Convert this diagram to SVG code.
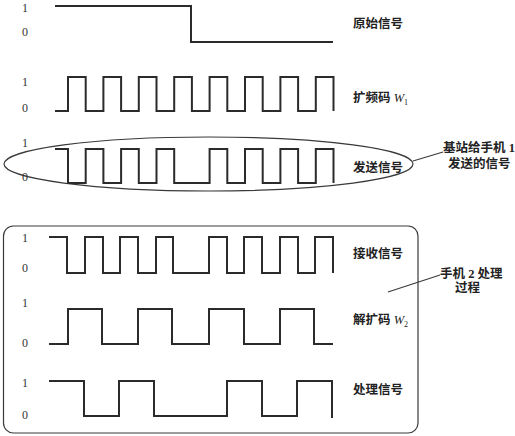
<svg xmlns="http://www.w3.org/2000/svg" width="515" height="436" viewBox="0 0 515 436">
<style>
.sig{fill:none;stroke:#2b2b2b;stroke-width:2;stroke-linejoin:miter}
.ln{fill:none;stroke:#3a3a3a;stroke-width:1.2}
.ax{font-family:"Liberation Serif",serif;font-size:12px;fill:#333}
.lb{font-family:"Liberation Serif","Noto Sans CJK SC",serif;font-size:12.5px;fill:#222;font-weight:bold}
.it{font-style:italic;font-weight:normal}
.sub{font-size:8px;font-weight:normal}
</style>
<rect width="515" height="436" fill="#fff"/>
<g id="box">
<rect x="3.5" y="226" width="414.5" height="207" rx="10" class="ln"/>
</g>
<g id="ellipse">
<ellipse cx="208.5" cy="164" rx="204.5" ry="27" class="ln"/>
</g>
<g id="connectors">
<line x1="413" y1="161" x2="443" y2="152" class="ln"/>
<line x1="388" y1="292" x2="440" y2="275" class="ln"/>
</g>
<g id="sig1">
<text class="ax" x="22" y="12">1</text>
<text class="ax" x="22" y="36">0</text>
<path class="sig" d="M55,6 H191 V42 H333"/>
<text class="lb" x="353" y="28">原始信号</text>
</g>
<g id="sig2">
<text class="ax" x="22" y="86">1</text>
<text class="ax" x="22" y="112">0</text>
<path class="sig" d="M55,111 H68 V77 H85.7 V111 H103.4 V77 H121.1 V111 H138.8 V77 H156.5 V111 H174.2 V77 H191.9 V111 H209.6 V77 H227.3 V111 H245 V77 H262.7 V111 H280.4 V77 H298.1 V111 H315.8 V77 H333.5 V111"/>
<text class="lb" x="353" y="102">扩频码 <tspan class="it">W</tspan><tspan class="sub" dy="3">1</tspan></text>
</g>
<g id="sig3">
<text class="ax" x="22" y="147">1</text>
<text class="ax" x="22" y="181">0</text>
<path class="sig" d="M55,149 H68 V183 H85.7 V149 H103.4 V183 H121.1 V149 H138.8 V183 H156.5 V149 H174.2 V183 H209.6 V149 H227.3 V183 H245 V149 H262.7 V183 H280.4 V149 H298.1 V183 H315.8 V149 H333.5 V183"/>
<text class="lb" x="353" y="172">发送信号</text>
</g>
<g id="note1">
<text class="lb" x="443" y="152">基站给手机 1</text>
<text class="lb" x="448" y="168">发送的信号</text>
</g>
<g id="sig4">
<text class="ax" x="22" y="242">1</text>
<text class="ax" x="22" y="272">0</text>
<path class="sig" d="M49,237 H67 V273 H85 V237 H103 V273 H120 V237 H138 V273 H156 V237 H173 V273 H209 V237 H227 V273 H244 V237 H262 V273 H280 V237 H298 V273 H315 V237 H333 V273"/>
<text class="lb" x="353" y="258">接收信号</text>
</g>
<g id="note2">
<text class="lb" x="440" y="278">手机 2 处理</text>
<text class="lb" x="455" y="292">过程</text>
</g>
<g id="sig5">
<text class="ax" x="22" y="307">1</text>
<text class="ax" x="22" y="347">0</text>
<path class="sig" d="M49,344 H68 V309 H102 V344 H138 V309 H172 V344 H209 V309 H244 V344 H280 V309 H314 V344 H333"/>
<text class="lb" x="353" y="324">解扩码 <tspan class="it">W</tspan><tspan class="sub" dy="3">2</tspan></text>
</g>
<g id="sig6">
<text class="ax" x="22" y="387">1</text>
<text class="ax" x="22" y="419">0</text>
<path class="sig" d="M49,381 H84 V416 H119 V381 H154 V416 H227 V381 H262 V416 H297 V381 H332 V418"/>
<text class="lb" x="353" y="394">处理信号</text>
</g>
</svg>
